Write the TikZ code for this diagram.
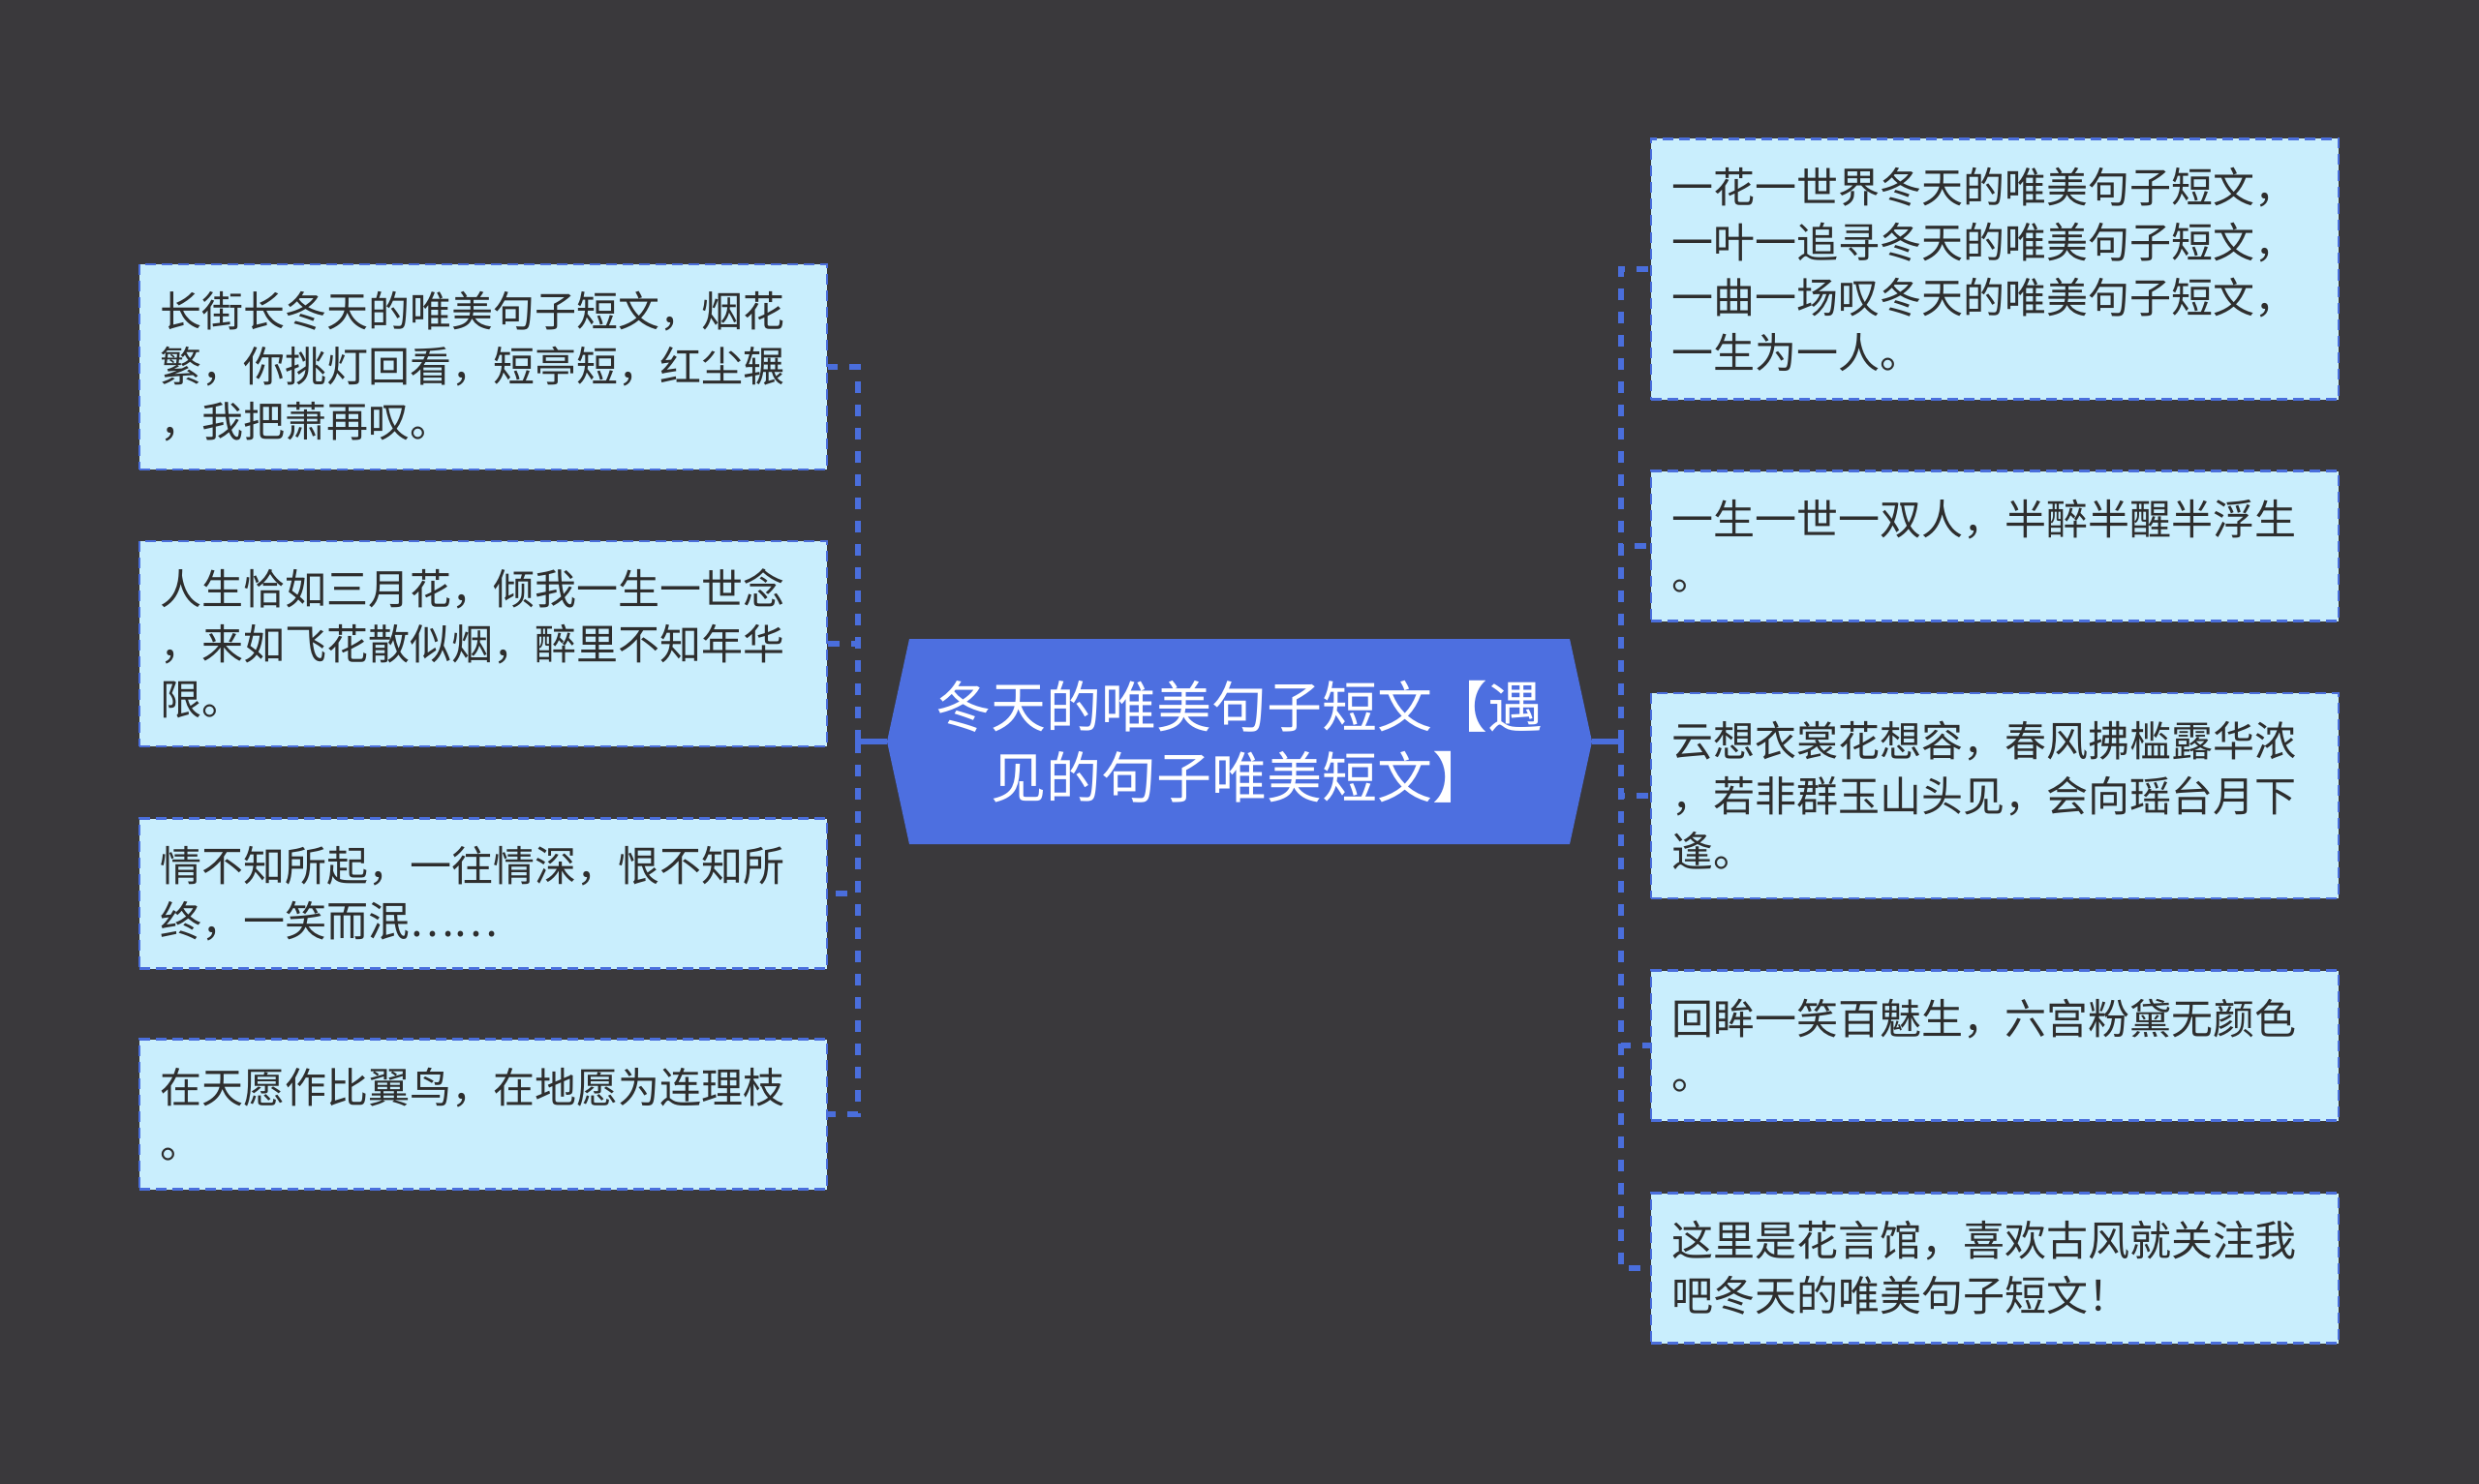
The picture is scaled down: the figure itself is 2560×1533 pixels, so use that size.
\documentclass[tikz,border=0pt]{standalone}
\usepackage{fontspec}
\newfontfamily\cjk{Noto Sans CJK SC}
\definecolor{bg}{HTML}{3A393C}
\definecolor{edge}{HTML}{4A6EDC}
\definecolor{leaffill}{HTML}{C9EEFD}
\definecolor{leaftext}{HTML}{2E2E2E}
\definecolor{rootfill}{HTML}{4D6FE0}
\begin{document}
\begin{tikzpicture}[x=1pt,y=-1pt,
  leaf/.style={draw=edge, fill=leaffill, dash pattern=on 11pt off 6pt, line width=2.5pt,
    minimum width=710pt, inner xsep=21pt, inner ysep=0pt, text width=668pt, align=left,
    font=\cjk\fontsize{43}{57}\selectfont, text=leaftext},
  hA/.style={minimum height=155pt},
  hB/.style={minimum height=212pt},
  hC/.style={minimum height=269pt},
  roottext/.style={inner sep=0pt, minimum width=728pt, minimum height=212pt, align=center,
    font=\cjk\fontsize{57}{73}\selectfont, text=white},
  conn/.style={draw=edge, line width=6pt, dash pattern=on 12pt off 12pt},
  stem/.style={draw=edge, line width=6pt}]
\fill[bg] (0,0) rectangle (2560,1533);
\useasboundingbox (0,0) rectangle (2560,1533);

% root
\fill[rootfill] (916,766) -- (939,660) -- (1621,660) -- (1644,766) -- (1621,872) -- (939,872) -- cycle;
\node[roottext] (c) at (1280,766) {冬天的唯美句子短文【遇\\见的句子唯美短文】};

% left leaves
\node[leaf,hB] (L1) at (499,379) {长街长冬天的唯美句子短文，烟花\\繁，你挑灯回看，短亭短，红尘辗\\，我把萧再叹。};
\node[leaf,hB] (L2) at (499,665) {人生恰如三月花，倾我一生一世念\\，来如飞花散似烟，醉里不知年华\\限。};
\node[leaf,hA] (L3) at (499,923) {情不知所起，一往情深，恨不知所\\终，一笑而泯……};
\node[leaf,hA] (L4) at (499,1151) {在天愿作比翼鸟，在地愿为连理枝\\。};

% right leaves
\node[leaf,hC] (R1) at (2060,278) {一花一世界冬天的唯美句子短文，\\一叶一追寻冬天的唯美句子短文，\\一曲一场叹冬天的唯美句子短文，\\一生为一人。};
\node[leaf,hA] (R2) at (2060,564) {一生一世一双人，半醉半醒半浮生\\。};
\node[leaf,hB] (R3) at (2060,822) {云想衣裳花想容，春风拂槛露华浓\\，若非群玉山头见，会向瑶台月下\\逢。};
\node[leaf,hA] (R4) at (2060,1080) {回眸一笑百魅生，六宫粉黛无颜色\\。};
\node[leaf,hA] (R5) at (2060,1310) {这里是花言馆，喜欢古风就关注我\\吧冬天的唯美句子短文！};

% connectors
\coordinate (cl) at (886,766);
\coordinate (cr) at (1674,766);
\draw[stem] (c.west) -- (cl);
\draw[stem] (c.east) -- (cr);
\foreach \n in {L1,L2,L3,L4} \draw[conn] (cl) |- (\n.east);
\foreach \n in {R1,R2,R3,R4,R5} \draw[conn] (cr) |- (\n.west);
\end{tikzpicture}
\end{document}
